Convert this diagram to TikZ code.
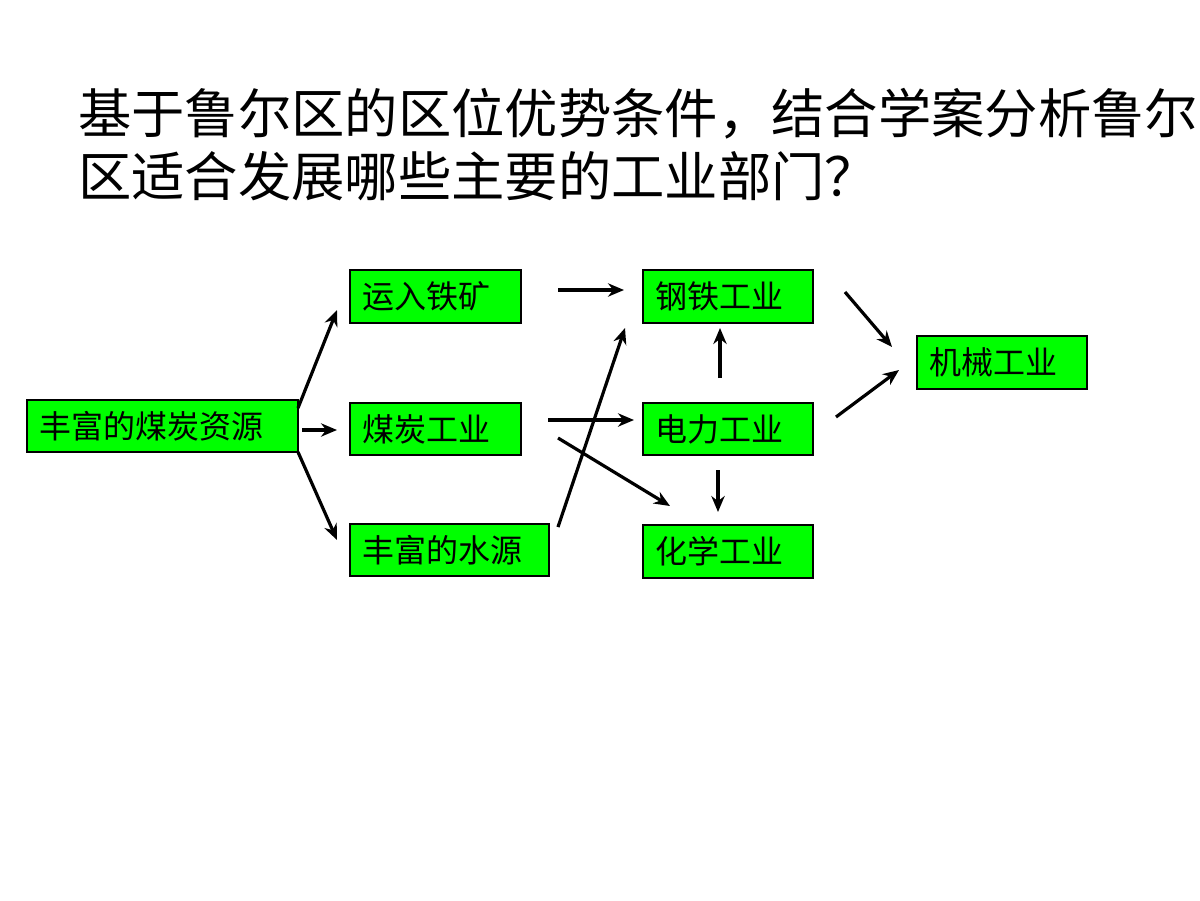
\documentclass[tikz,border=0pt]{standalone}
\usepackage{fontspec}
\newfontfamily\cjk{Noto Sans CJK SC}
\usetikzlibrary{arrows.meta}
\begin{document}
\begin{tikzpicture}[x=0.75pt,y=-0.75pt,
  box/.style={draw=black,line width=1.5pt,fill={rgb,255:red,0;green,255;blue,0}},
  lbl/.style={anchor=west,font=\cjk\fontsize{24}{26}\selectfont,inner sep=0pt},
  arr/.style={line width=2.4pt,-{Stealth[length=12pt,width=10pt]}}]
\useasboundingbox (0,0) rectangle (1200,900);
\node[anchor=north west,align=left,inner sep=0pt,font=\cjk\fontsize{40}{47}\selectfont] (title) at (78,88)
 {基于鲁尔区的区位优势条件，结合学案分析鲁尔\\区适合发展哪些主要的工业部门？};
\newcommand{\bx}[6]{\draw[box] (#2,#4) rectangle (#3,#5); \node[lbl] (#1) at (#2+12,{(#4+#5)/2}) {#6};}
\bx{coal}{27}{298}{400}{452}{丰富的煤炭资源}
\bx{iron}{350}{521}{270}{323}{运入铁矿}
\bx{cind}{350}{521}{403}{455}{煤炭工业}
\bx{water}{350}{549}{524}{576}{丰富的水源}
\bx{steel}{643}{813}{270}{323}{钢铁工业}
\bx{power}{643}{813}{403}{455}{电力工业}
\bx{chem}{643}{813}{525}{578}{化学工业}
\bx{mach}{917}{1087}{336}{389}{机械工业}
\coordinate (a1) at (298,408); \coordinate (b1) at (337,310);
\coordinate (a2) at (302,430); \coordinate (b2) at (337,430);
\coordinate (a3) at (298,452); \coordinate (b3) at (337,540);
\coordinate (a4) at (558,290); \coordinate (b4) at (624,290);
\coordinate (a5) at (548,420); \coordinate (b5) at (634,420);
\coordinate (a6) at (558,438); \coordinate (b6) at (670,506);
\coordinate (a7) at (558,527); \coordinate (b7) at (625,328);
\coordinate (a8) at (720,378); \coordinate (b8) at (720,328);
\coordinate (a9) at (718,470); \coordinate (b9) at (718,512);
\coordinate (a10) at (845,292); \coordinate (b10) at (892,347);
\coordinate (a11) at (836,417); \coordinate (b11) at (899,370);
\foreach \i in {1,...,11} \draw[arr] (a\i) -- (b\i);
\end{tikzpicture}
\end{document}
